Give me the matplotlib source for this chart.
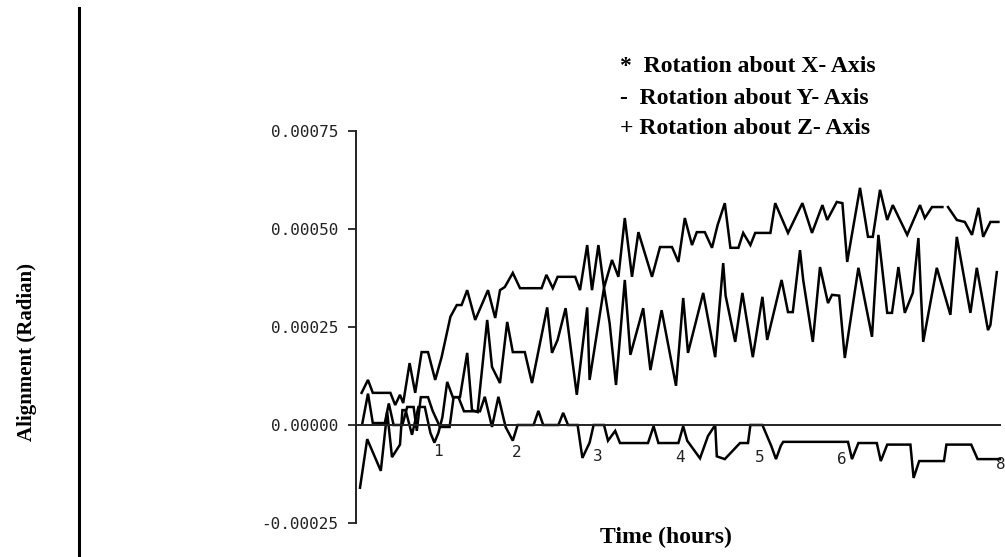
import numpy as np
import matplotlib.pyplot as plt
from matplotlib.lines import Line2D
from matplotlib.transforms import ScaledTranslation

# time in hours, alignment in units of 1e-4 radian
rot_x_t = [0.07, 0.15, 0.21, 0.43, 0.49, 0.55, 0.59, 0.67, 0.74, 0.82, 0.90, 0.99, 1.07, 1.18, 1.26, 1.32,
           1.39, 1.49, 1.65, 1.74, 1.80, 1.86, 1.96, 2.05, 2.32, 2.38, 2.46, 2.52, 2.74, 2.80, 2.89, 2.95,
           3.03, 3.10, 3.20, 3.28, 3.36, 3.45, 3.53, 3.70, 3.80, 3.95, 4.03, 4.11, 4.20, 4.26, 4.36, 4.45,
           4.52, 4.61, 4.68, 4.78, 4.84, 4.93, 4.99, 5.18, 5.24, 5.40, 5.58, 5.70, 5.83, 5.89, 6.01, 6.08,
           6.14, 6.30, 6.40, 6.46, 6.55, 6.64, 6.71, 6.89, 7.05, 7.11, 7.20, 7.33, 7.37, 7.40, 7.51, 7.61,
           7.70, 7.78, 7.84, 7.93, 8.03]
rot_x_v = [0.82, 1.15, 0.82, 0.82, 0.51, 0.77, 0.56, 1.58, 0.82, 1.86, 1.86, 1.15, 1.73, 2.76, 3.06, 3.06,
           3.44, 2.68, 3.44, 2.73, 3.44, 3.52, 3.88, 3.49, 3.49, 3.83, 3.49, 3.78, 3.78, 3.44, 4.59, 3.44,
           4.59, 3.50, 4.21, 3.78, 5.28, 3.78, 4.92, 3.78, 4.54, 4.54, 4.16, 5.28, 4.59, 4.92, 4.92, 4.52,
           5.10, 5.66, 4.52, 4.52, 4.90, 4.59, 4.90, 4.90, 5.66, 4.90, 5.66, 4.90, 5.61, 5.23, 5.69, 5.66,
           4.16, 6.05, 4.80, 4.80, 6.00, 5.23, 5.61, 4.85, 5.61, 5.28, 5.56, 5.56, np.nan, 5.56, 5.23, 5.18,
           4.85, 5.54, 4.80, 5.18, 5.18]

rot_y_t = [0.08, 0.15, 0.21, 0.36, 0.41, 0.47, 0.58, 0.64, 0.72, 0.76, 0.81, 0.90, 0.96, 1.05, 1.17, 1.22,
           1.30, 1.39, 1.45, 1.52, 1.64, 1.70, 1.80, 1.89, 1.96, 2.11, 2.20, 2.39, 2.45, 2.52, 2.62, 2.76,
           2.89, 2.92, 3.10, 3.17, 3.25, 3.36, 3.43, 3.59, 3.68, 3.82, 4.00, 4.09, 4.15, 4.34, 4.49, 4.59,
           4.62, 4.74, 4.83, 4.96, 5.08, 5.14, 5.32, 5.40, 5.46, 5.55, 5.59, 5.71, 5.80, 5.90, 5.95, 6.04,
           6.11, 6.28, 6.45, 6.53, 6.64, 6.70, 6.78, 6.86, 6.96, 7.03, 7.09, 7.26, 7.43, 7.51, 7.68, 7.76,
           7.90, 7.93, 8.01]
rot_y_v = [0.05, 0.80, 0.05, 0.05, 0.55, 0.00, 0.00, 0.46, 0.46, -0.15, 0.71, 0.71, 0.35, -0.05, -0.05, 0.71,
           0.71, 1.84, 0.38, 0.33, 2.68, 1.48, 1.07, 2.63, 1.86, 1.86, 1.07, 3.00, 1.84, 2.17, 2.98, 0.77,
           3.00, 1.15, 3.50, 2.60, 1.02, 3.70, 1.79, 2.98, 1.40, 2.93, 1.00, 3.24, 1.84, 3.37, 1.73, 4.13,
           3.30, 2.12, 3.37, 1.73, 3.27, 2.17, 3.70, 2.88, 2.88, 4.46, 3.70, 2.12, 4.03, 3.11, 3.32, 3.30,
           1.71, 4.01, 2.25, 4.85, 2.86, 2.86, 4.03, 2.86, 3.37, 4.77, 2.12, 4.01, 2.81, 4.80, 2.86, 4.01,
           2.42, 2.55, 3.90]

rot_z_t = [0.05, 0.14, 0.31, 0.39, 0.45, 0.55, 0.58, 0.62, 0.70, 0.78, 0.86, 0.93, 0.98, 1.03, 1.08, 1.14,
           1.21, 1.28, 1.35, 1.55, 1.61, 1.70, 1.78, 1.87, 1.96, 2.02, 2.22, 2.28, 2.34, 2.53, 2.59, 2.65,
           2.77, 2.83, 2.92, 2.97, 3.10, 3.15, 3.24, 3.30, 3.65, 3.72, 3.78, 4.03, 4.09, 4.14, 4.30, 4.40,
           4.49, 4.51, 4.61, 4.80, 4.90, 4.93, 5.08, 5.19, 5.25, 5.31, 5.34, 6.15, 6.20, 6.28, 6.51, 6.56,
           6.64, 6.93, 6.97, 7.04, 7.35, 7.38, 7.69, 7.77, 8.05]
rot_z_v = [-1.60, -0.36, -1.17, 0.33, -0.82, -0.50, 0.38, 0.38, -0.25, 0.46, 0.46, -0.20, -0.45, -0.20, 0.20, 1.10,
           0.71, 0.71, 0.35, 0.35, 0.72, -0.05, 0.72, -0.05, -0.40, 0.00, 0.00, 0.36, 0.00, 0.00, 0.31, 0.00,
           0.00, -0.84, -0.45, 0.00, 0.00, -0.40, -0.15, -0.46, -0.46, -0.03, -0.46, -0.46, -0.03, -0.40, -0.85, -0.28,
           0.00, -0.80, -0.87, -0.46, -0.46, 0.00, 0.00, -0.53, -0.87, -0.53, -0.43, -0.43, -0.87, -0.46, -0.46, -0.92,
           -0.50, -0.50, -1.35, -0.92, -0.92, -0.50, -0.50, -0.87, -0.87]

y_ticks = [-0.00025, 0.0, 0.00025, 0.0005, 0.00075]
y_tick_labels = ["-0.00025", "0.00000", "0.00025", "0.00050", "0.00075"]
x_ticks = [1, 2, 3, 4, 5, 6, 8]
x_tick_labels = ["1", "2", "3", "4", "5", "6", "8"]
legend_lines = ["*  Rotation about X- Axis", "-  Rotation about Y- Axis", "+ Rotation about Z- Axis"]

W, H = 1005, 557
fig = plt.figure(figsize=(W / 100, H / 100), dpi=100)
ax = fig.add_axes([356 / W, 14.4 / H, 648 / W, 431.2 / H])
ax.set_xlim(0, 8.1)
ax.set_ylim(-0.0003, 0.0008)

for t, v in [(rot_x_t, rot_x_v), (rot_y_t, rot_y_v), (rot_z_t, rot_z_v)]:
    ax.plot(t, np.array(v) * 1e-4, color="black", lw=1.8, solid_joinstyle="miter")

for s in ["top", "right"]:
    ax.spines[s].set_visible(False)
ax.spines["bottom"].set_position(("data", 0))
ax.spines["bottom"].set_bounds(0, 8.05)
ax.spines["left"].set_bounds(-0.00025, 0.00075)
for s in ["bottom", "left"]:
    ax.spines[s].set_linewidth(1.4)
    ax.spines[s].set_color("#222222")

ax.set_yticks(y_ticks, labels=y_tick_labels, fontfamily="DejaVu Sans Mono", fontsize=11.5, color="#222222")
ax.tick_params(axis="y", direction="out", length=6, width=1.3, pad=7, color="#222222")
ax.set_xticks(x_ticks, labels=x_tick_labels, fontfamily="DejaVu Sans Mono", fontsize=11.5, color="#222222")
ax.tick_params(axis="x", length=0, pad=14)

# the plotter labels sit a little lower and further right along the axis
shifts = [(2, 0), (1, 1), (2, 5), (4, 6), (4, 6), (6, 8), (5, 13)]
for lbl, (dx, dy) in zip(ax.get_xticklabels(), shifts):
    lbl.set_transform(lbl.get_transform() + ScaledTranslation(dx / 100, -dy / 100, fig.dpi_scale_trans))

serif = dict(family="Liberation Serif", weight="bold", color="black")
for i, line in enumerate(legend_lines):
    fig.text(620 / W, 1 - (67 + 31 * i) / H, line, ha="left", va="center", fontsize=17, **serif)

fig.text(27 / W, 1 - 352 / H, "Alignment (Radian)", rotation=90, ha="center", va="center", fontsize=15, **serif)
fig.text(666 / W, 1 - 537 / H, "Time (hours)", ha="center", va="center", fontsize=17, **serif)

fig.add_artist(Line2D([79 / W, 79 / W], [0, 1 - 8 / H], transform=fig.transFigure, color="black", lw=2.2))

fig.savefig("out.png", dpi=100)
